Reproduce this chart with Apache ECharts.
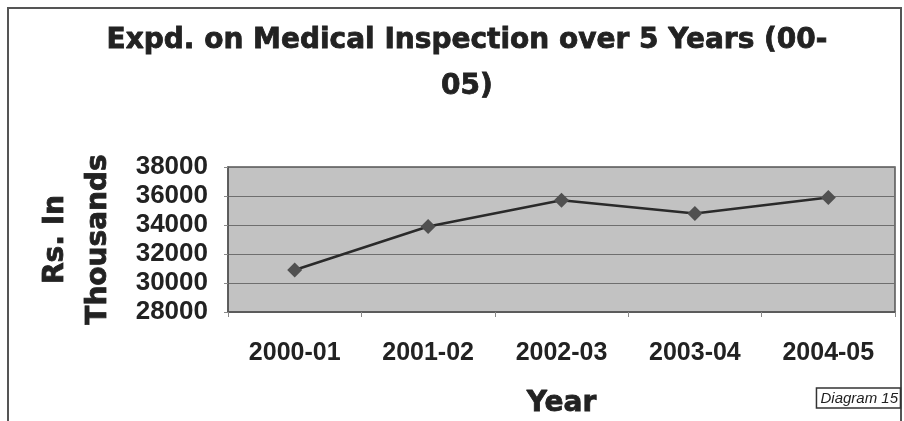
<!DOCTYPE html>
<html>
<head>
<meta charset="utf-8">
<script src="https://cdn.jsdelivr.net/npm/echarts@6/dist/echarts.min.js"></script>
<style>
  html, body { margin: 0; padding: 0; background: #fff; }
  #chart1 { width: 904px; height: 421px; }
</style>
</head>
<body>
<div id="chart1"></div>
<script>
// data
var years = ["2000-01", "2001-02", "2002-03", "2003-04", "2004-05"];
var expd = [30900, 33900, 35700, 34800, 35900];
var yMin = 28000, yMax = 38000, yStep = 2000;

var mychart = echarts.init(document.getElementById("chart1"));
var font = "Liberation Sans, Arial, sans-serif";
var heavy = "DejaVu Sans, sans-serif";

var option = {
    backgroundColor: "#fff",
    animation: false,
    title: [{
        text: "Expd. on Medical Inspection over 5 Years (00-\n05)",
        left: 462,
        textAlign: "center",
        top: 13,
        textStyle: {
            color: "#222",
            fontFamily: heavy,
            fontWeight: "bold",
            fontSize: 28,
            lineHeight: 46,
            textBorderColor: "#222",
            textBorderWidth: 0.8
        }
    }, {
        text: "Diagram 15",
        right: 3,
        top: 388,
        borderColor: "#333",
        borderWidth: 1.5,
        padding: [3, 3, 2, 4],
        textStyle: {
            color: "#222",
            fontFamily: font,
            fontStyle: "italic",
            fontWeight: "normal",
            fontSize: 15
        }
    }],
    graphic: [{
        type: "rect",
        shape: { x: 8, y: 8, width: 893, height: 430 },
        style: { fill: null, stroke: "#555", lineWidth: 2 },
        silent: true
    }],
    grid: {
        left: 228,
        right: 9,
        top: 167,
        bottom: 109,
        show: true,
        backgroundColor: "#c2c2c2",
        borderColor: "#555",
        borderWidth: 1.5
    },
    xAxis: {
        type: "category",
        data: years,
        boundaryGap: true,
        name: "Year",
        nameLocation: "middle",
        nameGap: 78,
        nameTextStyle: {
            color: "#222",
            fontFamily: heavy,
            fontWeight: "bold",
            fontSize: 28,
            textBorderColor: "#222",
            textBorderWidth: 0.8
        },
        axisLine: { lineStyle: { color: "#555", width: 1.5 } },
        axisTick: { show: true, length: 5, lineStyle: { color: "#888" } },
        axisLabel: {
            color: "#222",
            fontFamily: font,
            fontWeight: "bold",
            fontSize: 25,
            margin: 29
        }
    },
    yAxis: {
        type: "value",
        min: yMin,
        max: yMax,
        interval: yStep,
        name: "Rs. In\nThousands",
        nameLocation: "middle",
        nameGap: 108,
        nameTextStyle: {
            color: "#222",
            fontFamily: heavy,
            fontWeight: "bold",
            fontSize: 28,
            lineHeight: 43,
            textBorderColor: "#222",
            textBorderWidth: 0.8
        },
        axisLine: { show: true, lineStyle: { color: "#555", width: 1.5 } },
        axisTick: { show: true, length: 4, lineStyle: { color: "#888" } },
        axisLabel: {
            color: "#222",
            fontFamily: font,
            fontWeight: "bold",
            fontSize: 26,
            margin: 20,
            formatter: function (v) { return String(v); }
        },
        splitLine: { lineStyle: { color: "#6e6e6e", width: 1.2 } }
    },
    series: [{
        name: "Expd.",
        type: "line",
        data: expd,
        symbol: "diamond",
        symbolSize: 15,
        itemStyle: { color: "#505050" },
        lineStyle: { color: "#2a2a2a", width: 2.5 }
    }]
};
mychart.setOption(option);
</script>
</body>
</html>
